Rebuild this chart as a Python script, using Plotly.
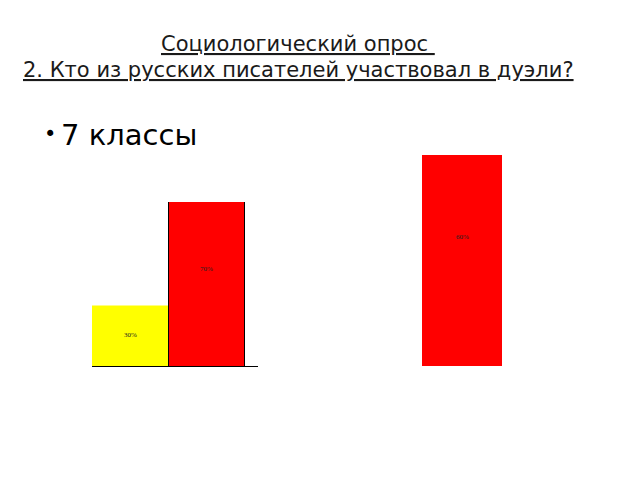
import plotly.graph_objects as go

# левая диаграмма
left_cats = ["Пушкин", "Лермонтов"]
left_vals = [30, 70]
left_labels = ["30%", "70%"]
left_colors = ["#ffff00", "#ff0000"]

# правая диаграмма
right_cats = ["Пушкин и Лермонтов"]
right_vals = [60]
right_labels = ["60%"]

# страница сдвинута на 8px (отступ body), учитываем это
def px_x(v):
    return (v - 8) / 640

def px_y(v):
    return 1 - (v - 8) / 480

fig = go.Figure()
fig.add_bar(x=left_cats, y=left_vals, width=1,
            marker_color=left_colors,
            marker_line_color=["rgba(0,0,0,0)", "#000000"], marker_line_width=1,
            xaxis="x", yaxis="y", showlegend=False, hoverinfo="skip")
fig.add_bar(x=right_cats, y=right_vals, width=1,
            marker_color="#ff0000", marker_line_width=0,
            xaxis="x2", yaxis="y2", showlegend=False, hoverinfo="skip")

fig.update_layout(
    width=640, height=480,
    margin=dict(l=0, r=0, t=0, b=0),
    paper_bgcolor="white", plot_bgcolor="rgba(0,0,0,0)",
    bargap=0,
    xaxis=dict(domain=[px_x(92), px_x(258)], range=[-0.5, 1.67], showticklabels=False,
               showgrid=False, zeroline=False, showline=True, linecolor="#000000",
               linewidth=1, ticks=""),
    yaxis=dict(domain=[px_y(366), px_y(202)], range=[7, 70], visible=False, showgrid=False),
    xaxis2=dict(domain=[px_x(422), px_x(502)], range=[-0.5, 0.5], showticklabels=False,
                showgrid=False, zeroline=False, showline=False, ticks=""),
    yaxis2=dict(domain=[px_y(366), px_y(155)], range=[0, 60], visible=False, showgrid=False,
                anchor="x2"),
    font=dict(family="DejaVu Sans"),
)

# подписи значений внутри столбцов (чуть выше середины, как в оригинале)
lbl_font = dict(size=7, color="#222222", family="Liberation Serif")
notes = []
for c, v, t in zip(left_cats, left_vals, left_labels):
    notes.append(dict(text=t, x=c, y=v * 0.63, xref="x", yref="y", showarrow=False, font=lbl_font))
for c, v, t in zip(right_cats, right_vals, right_labels):
    notes.append(dict(text=t, x=c, y=v * 0.61, xref="x2", yref="y2", showarrow=False, font=lbl_font))

notes += [
    dict(text="<u>Социологический опрос </u>", x=px_x(298), y=px_y(44),
         xref="paper", yref="paper", showarrow=False, xanchor="center", yanchor="middle",
         font=dict(size=21, color="#1a1a1a", family="DejaVu Sans")),
    dict(text="<u>2. Кто из русских писателей участвовал в дуэли?</u>", x=px_x(298), y=px_y(70),
         xref="paper", yref="paper", showarrow=False, xanchor="center", yanchor="middle",
         font=dict(size=21, color="#1a1a1a", family="DejaVu Sans")),
    dict(text="•", x=px_x(42), y=px_y(134),
         xref="paper", yref="paper", showarrow=False, xanchor="left", yanchor="middle",
         font=dict(size=21, color="#000000", family="DejaVu Sans")),
    dict(text="7 классы", x=px_x(59), y=px_y(135),
         xref="paper", yref="paper", showarrow=False, xanchor="left", yanchor="middle",
         font=dict(size=29, color="#000000", family="DejaVu Sans")),
]
fig.update_layout(annotations=notes)

fig.write_html("out.html")
